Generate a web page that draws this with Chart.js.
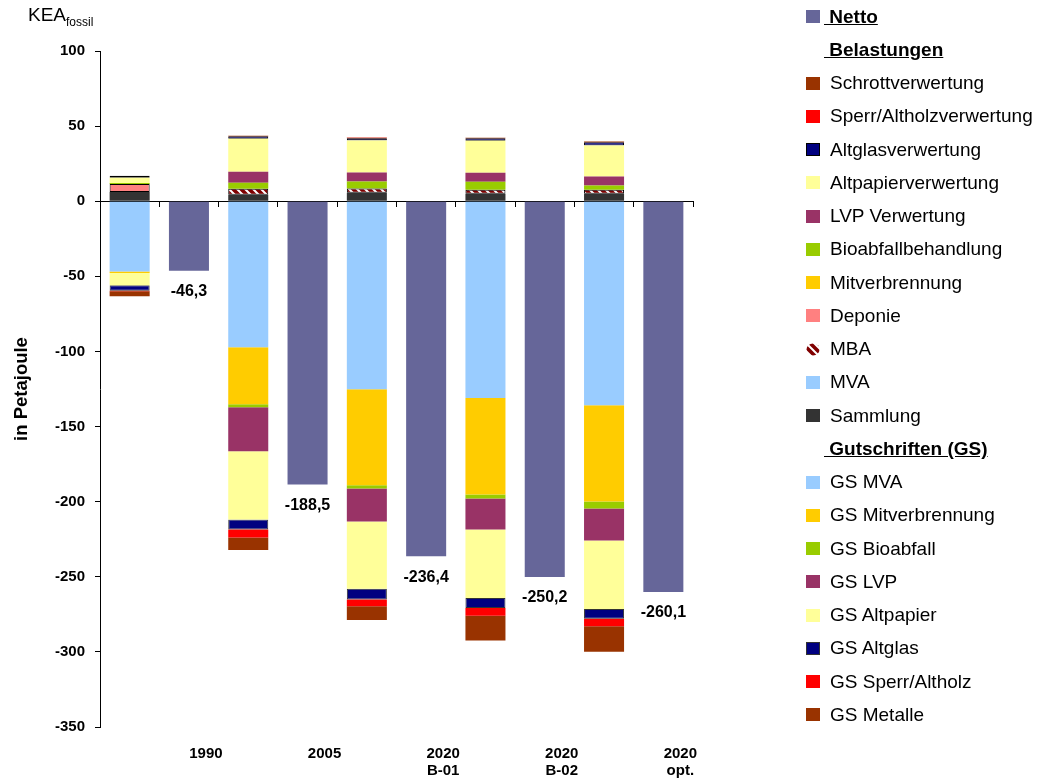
<!DOCTYPE html>
<html><head><meta charset="utf-8">
<script src="https://cdn.jsdelivr.net/npm/chart.js@4"></script>
<style>
html,body{margin:0;padding:0;background:#fff;}
#wrap{position:relative;width:1043px;height:783px;font-family:"Liberation Sans",Arial,sans-serif;color:#000;overflow:hidden;}
#c{position:absolute;left:0;top:0;}
#kea{position:absolute;left:28px;top:4px;font-size:19px;line-height:22px;white-space:nowrap;}
#kea span{font-size:12px;position:relative;top:5px;}
.li{position:absolute;height:20px;line-height:20px;font-size:19px;white-space:nowrap;}
.sw{position:absolute;left:806px;width:14px;height:13px;box-sizing:border-box;}
.hd{font-weight:bold;text-decoration:underline;}
</style></head>
<body>
<div id="wrap">
<canvas id="c" width="1043" height="783"></canvas>
<div id="kea">KEA<span>fossil</span></div>
<div id="legend"></div>
</div>
<script>
// ---- data (values in Petajoule) ----
const scenarios = ['1990', '2005', '2020 B-01', '2020 B-02', '2020 opt.'];
const tickLabels = [['1990'], ['2005'], ['2020', 'B-01'], ['2020', 'B-02'], ['2020', 'opt.']];
const netto = [-46.3, -188.5, -236.4, -250.2, -260.1];
// Belastungen
const sammlung       = [6.1, 4.3, 5.7, 5.0, 5.0];
const mva            = [0, 0, 0, 0, 0];
const mba            = [0, 4.0, 2.7, 2.7, 2.7];
const deponie        = [5.4, 0, 0, 0, 0];
const mitverbrennung = [0, 0, 0, 0, 0];
const bioabfall      = [0.6, 4.0, 4.7, 5.3, 2.7];
const lvp            = [0, 7.3, 6.0, 6.0, 6.0];
const altpapier      = [3.6, 22.0, 21.3, 21.3, 20.7];
const altglas        = [1.3, 1.6, 1.6, 1.6, 2.1];
const sperr          = [0, 0.2, 0.2, 0.2, 0.3];
const schrott        = [0, 0.2, 0.2, 0.2, 0.3];
// Gutschriften
const gsMva          = [-46.8, -97.2, -125.2, -131.0, -135.9];
const gsMitverbr     = [-0.9, -38.0, -63.8, -64.2, -64.0];
const gsBioabfall    = [0, -2.0, -2.2, -2.7, -4.6];
const gsLvp          = [0, -29.3, -22.0, -20.6, -21.4];
const gsAltpapier    = [-8.2, -45.4, -44.7, -45.6, -45.5];
const gsAltglas      = [-3.7, -6.6, -7.3, -6.7, -6.5];
const gsSperr        = [-0.4, -5.4, -4.4, -5.1, -5.1];
const gsMetalle      = [-3.2, -8.3, -9.2, -16.6, -16.9];

// ---- helpers ----
const categories = [];
scenarios.forEach(s => { categories.push(s + ' Bilanz'); categories.push(s); });
function stackedSlot(arr) { const out = []; arr.forEach(v => { out.push(v === 0 ? null : v); out.push(null); }); return out; }
function nettoSlot(arr) { const out = []; arr.forEach(v => { out.push(null); out.push(v); }); return out; }

function makePatternCanvas() {
  const c = document.createElement('canvas'); c.width = 8; c.height = 8;
  const g = c.getContext('2d');
  g.fillStyle = '#800000'; g.fillRect(0, 0, 8, 8);
  g.strokeStyle = '#ffffff'; g.lineWidth = 2;
  g.beginPath(); g.moveTo(-2, -2); g.lineTo(10, 10); g.moveTo(-6, 2); g.lineTo(2, 10); g.moveTo(2, -6); g.lineTo(10, 2); g.stroke();
  return c;
}
const patCanvas = makePatternCanvas();
const ctx = document.getElementById('c').getContext('2d');
const mbaFill = ctx.createPattern(patCanvas, 'repeat');

const C = {
  netto: '#666699', schrott: '#993300', sperr: '#FF0000', altglas: '#000080', altpapier: '#FFFF99',
  lvp: '#993366', bio: '#99CC00', mitv: '#FFCC00', deponie: '#FF8080', mva: '#99CCFF', sammlung: '#333333'
};

function ds(label, data, color, opts) {
  return Object.assign({ label, data: stackedSlot(data), backgroundColor: color, borderWidth: 0 }, opts || {});
}
const bordered = { borderColor: '#000000', borderWidth: 1, borderSkipped: false };

const datasets = [
  { label: 'Netto', data: nettoSlot(netto), backgroundColor: C.netto, borderWidth: 0 },
  ds('Sammlung', sammlung, C.sammlung),
  ds('MVA', mva, C.mva),
  ds('MBA', mba, mbaFill, bordered),
  ds('Deponie', deponie, C.deponie, bordered),
  ds('Mitverbrennung', mitverbrennung, C.mitv),
  ds('Bioabfallbehandlung', bioabfall, C.bio),
  ds('LVP Verwertung', lvp, C.lvp),
  ds('Altpapierverwertung', altpapier, C.altpapier),
  ds('Altglasverwertung', altglas, C.altglas, bordered),
  ds('Sperr/Altholzverwertung', sperr, C.sperr),
  ds('Schrottverwertung', schrott, C.schrott),
  ds('GS MVA', gsMva, C.mva),
  ds('GS Mitverbrennung', gsMitverbr, C.mitv),
  ds('GS Bioabfall', gsBioabfall, C.bio),
  ds('GS LVP', gsLvp, C.lvp),
  ds('GS Altpapier', gsAltpapier, C.altpapier),
  ds('GS Altglas', gsAltglas, C.altglas, { borderColor: '#333333', borderWidth: 1, borderSkipped: false }),
  ds('GS Sperr/Altholz', gsSperr, C.sperr),
  ds('GS Metalle', gsMetalle, C.schrott)
];

const FONT = '"Liberation Sans", Arial, sans-serif';

const nettoLabels = {
  id: 'nettoLabels',
  afterDatasetsDraw(chart) {
    const c = chart.ctx; const meta = chart.getDatasetMeta(0);
    c.save(); c.font = 'bold 16px ' + FONT; c.fillStyle = '#000'; c.textAlign = 'center'; c.textBaseline = 'middle';
    meta.data.forEach((el, i) => {
      const v = chart.data.datasets[0].data[i];
      if (v == null) return;
      c.fillText(v.toFixed(1).replace('.', ','), el.x, el.y + 21);
    });
    c.restore();
  }
};

new Chart(ctx, {
  type: 'bar',
  data: { labels: categories, datasets },
  options: {
    responsive: false, animation: false, devicePixelRatio: 1,
    layout: { padding: { left: 0, top: 51, right: 350, bottom: 0 } },
    datasets: { bar: { categoryPercentage: 1.0, barPercentage: 0.675 } },
    plugins: { legend: { display: false }, tooltip: { enabled: false } },
    scales: {
      x: {
        type: 'category', stacked: true, offset: true,
        grid: { display: false }, border: { display: false },
        afterFit(s) { s.height = 56; },
        ticks: {
          autoSkip: false, maxRotation: 0, minRotation: 0, padding: 11, labelOffset: 17,
          color: '#000', font: { family: FONT, size: 15, weight: 'bold', lineHeight: 1.1 },
          callback(v, i) { return i % 2 === 1 ? tickLabels[(i - 1) / 2] : ''; }
        }
      },
      x0: {
        type: 'category', axis: 'x', position: { y: 0 }, offset: true, stacked: true,
        grid: { display: true, offset: true, drawOnChartArea: false, drawTicks: true, tickLength: 5, color: '#000', lineWidth: 1 },
        border: { display: true, color: '#000', width: 1 },
        ticks: { display: false }
      },
      y: {
        stacked: true, min: -350, max: 100,
        afterFit(s) { s.width = 100; },
        grid: { display: true, drawOnChartArea: false, drawTicks: true, tickLength: 5, color: '#000', lineWidth: 1 },
        border: { display: true, color: '#000', width: 1 },
        ticks: { stepSize: 50, padding: 10, color: '#000', font: { family: FONT, size: 15, weight: 'bold' }, callback: v => String(v) },
        title: { display: true, text: 'in Petajoule', color: '#000', padding: { top: 11, bottom: 0 }, font: { family: FONT, size: 18.5, weight: 'bold', lineHeight: 1.2 } }
      }
    }
  },
  plugins: [nettoLabels]
});

// ---- HTML legend (built from the datasets) ----
const byLabel = {}; datasets.forEach(d => byLabel[d.label] = d);
const legendOrder = [
  { label: 'Netto', header: true, swatch: true },
  { label: 'Belastungen', header: true },
  { label: 'Schrottverwertung' }, { label: 'Sperr/Altholzverwertung' }, { label: 'Altglasverwertung' },
  { label: 'Altpapierverwertung' }, { label: 'LVP Verwertung' }, { label: 'Bioabfallbehandlung' },
  { label: 'Mitverbrennung' }, { label: 'Deponie' }, { label: 'MBA' }, { label: 'MVA' }, { label: 'Sammlung' },
  { label: 'Gutschriften (GS)', header: true },
  { label: 'GS MVA' }, { label: 'GS Mitverbrennung' }, { label: 'GS Bioabfall' }, { label: 'GS LVP' },
  { label: 'GS Altpapier' }, { label: 'GS Altglas' }, { label: 'GS Sperr/Altholz' }, { label: 'GS Metalle' }
];
const swatchStyle = { 'Deponie': 'plain' };
const leg = document.getElementById('legend');
legendOrder.forEach((it, k) => {
  const cy = 16.7 + 33.24 * k;
  const d = byLabel[it.label];
  const hasSwatch = !it.header || it.swatch;
  if (hasSwatch && d) {
    let sw;
    if (it.label === 'MBA') {
      sw = document.createElement('canvas'); sw.width = 14; sw.height = 13;
      const g = sw.getContext('2d');
      g.fillStyle = g.createPattern(patCanvas, 'repeat');
      g.beginPath(); g.ellipse(7, 6.5, 6.5, 6, 0, 0, Math.PI * 2); g.fill();
      sw.className = 'sw';
    } else {
      sw = document.createElement('div'); sw.className = 'sw';
      sw.style.background = d.backgroundColor;
      if (d.borderWidth && swatchStyle[it.label] !== 'plain') sw.style.border = '1px solid ' + d.borderColor;
    }
    sw.style.top = (cy - 6.5) + 'px';
    leg.appendChild(sw);
  }
  const t = document.createElement('div');
  t.className = 'li' + (it.header ? ' hd' : '');
  t.style.top = (cy - 10) + 'px';
  t.style.left = (it.header ? 824 : 830) + 'px';
  t.textContent = it.header ? '\u00a0' + it.label : it.label;
  leg.appendChild(t);
});
</script>
</body></html>
